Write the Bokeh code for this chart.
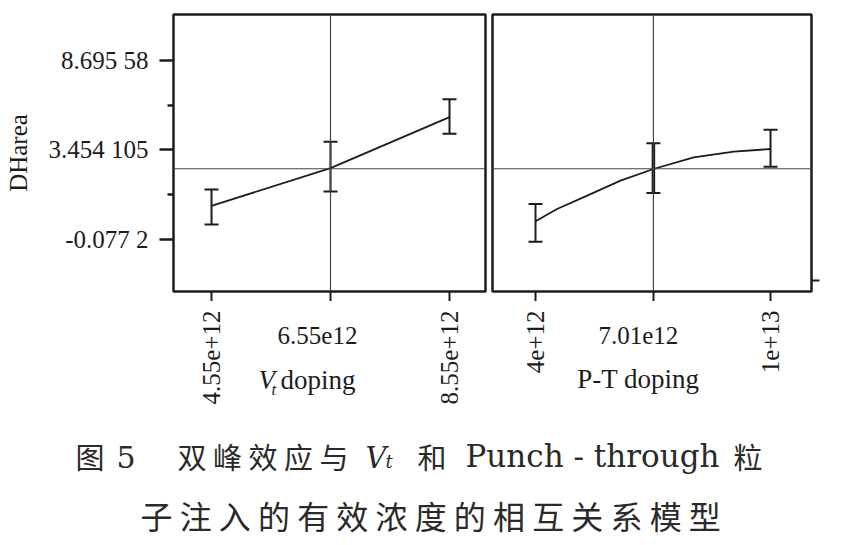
import math
from bokeh.plotting import figure
from bokeh.models import FixedTicker, LinearAxis, Span, Label, Range1d
from bokeh.layouts import row, column
from bokeh.embed import file_html
from bokeh.resources import INLINE

# ---------------- data ----------------
vt_x = [4.55e12, 6.55e12, 8.55e12]
vt_y = [1.575, 3.418, 5.917]
vt_lo = [0.658, 2.276, 5.103]
vt_hi = [2.373, 4.711, 6.799]

pt_x = [4.0e12, 7.01e12, 1.0e13]
pt_y = [0.815, 3.378, 4.358]
pt_lo = [-0.185, 2.202, 3.491]
pt_hi = [1.663, 4.638, 5.304]
pt_curve_x = [4.0e12, 4.55e12, 5.32e12, 6.17e12, 7.01e12, 8.04e12, 9.06e12, 1.0e13]
pt_curve_y = [0.815, 1.418, 2.070, 2.805, 3.378, 3.952, 4.226, 4.358]

mean_y = 3.39
y_ticks = [-0.0772, 4.30919, 8.69558]
y_tick_labels = ["-0.077 2", "3.454 105", "8.695 58"]
y_minor = [2.11600, 6.50239]
vt_tick_labels = ["4.55e+12", "6.55e12", "8.55e+12"]
pt_tick_labels = ["4e+12", "7.01e12", "1e+13"]
y_label = "DHarea"
vt_axis_label = ("V", "t", "doping")
pt_axis_label = "P-T doping"
caption1 = ["图", "5", "双 峰 效 应 与", "V", "t", "和", "Punch - through", "粒"]
caption2 = "子 注 入 的 有 效 浓 度 的 相 互 关 系 模 型"

Y0, Y1 = -2.626, 10.950
INK = "#1c1c1c"
SERIF = "Liberation Serif"
CJK = "Noto Sans CJK SC"
STRIP_H = 120
CAP_H = 124


def panel(xr, xs, lo, hi, cx, cy, left, bar_widths):
    p = figure(x_range=Range1d(*xr), y_range=Range1d(Y0, Y1), title=None,
               frame_width=312 if left else 319, frame_height=277,
               min_border_left=173 if left else 4, min_border_right=3 if left else 20,
               min_border_top=14, min_border_bottom=10,
               toolbar_location=None, output_backend="svg",
               y_axis_location="left" if left else None,
               background_fill_color="white", border_fill_color="white")
    p.grid.visible = False
    p.outline_line_color = INK
    p.outline_line_width = 2.5

    xa = p.xaxis[0]
    xa.ticker = FixedTicker(ticks=[], minor_ticks=xs)
    xa.axis_line_color = None
    xa.minor_tick_in = 0
    xa.minor_tick_out = 10
    xa.minor_tick_line_width = 2
    xa.minor_tick_line_color = INK
    xa.major_label_standoff = 0
    xa.axis_label_standoff = 0

    p.add_layout(Span(location=mean_y, dimension="width", line_color="#444", line_width=1.2))
    p.add_layout(Span(location=xs[1], dimension="height", line_color="#444", line_width=1.2))

    p.line(cx, cy, line_color=INK, line_width=1.8)
    p.segment(x0=xs, y0=lo, x1=xs, y1=hi, line_color=INK, line_width=bar_widths)
    p.scatter(xs, lo, marker="dash", size=14, line_color=INK, line_width=2)
    p.scatter(xs, hi, marker="dash", size=14, line_color=INK, line_width=2)
    return p


def strip(p, left, xs, tick_labels, mid_offset):
    # tick-label band under a panel, sharing the panel's x scale
    s = figure(x_range=p.x_range, y_range=Range1d(0, STRIP_H), title=None,
               frame_width=312 if left else 319, frame_height=STRIP_H,
               min_border_left=173 if left else 4, min_border_right=3 if left else 20,
               min_border_top=0, min_border_bottom=0,
               toolbar_location=None, output_backend="svg",
               x_axis_location=None, y_axis_location=None,
               background_fill_color="white", border_fill_color="white")
    s.grid.visible = False
    s.outline_line_color = None
    for xv, t in ((xs[0], tick_labels[0]), (xs[2], tick_labels[2])):
        s.add_layout(Label(x=xv, y=STRIP_H - 9, text=t, angle=math.pi / 2,
                           text_align="right", text_baseline="middle",
                           text_font=SERIF, text_font_size="25px", text_color=INK))
    s.add_layout(Label(x=xs[1], y=86, x_offset=mid_offset, text=tick_labels[1],
                       text_align="center", text_baseline="middle",
                       text_font=SERIF, text_font_size="25px", text_color=INK))
    return s


p1 = panel((3.911e12, 9.155e12), vt_x, vt_lo, vt_hi, vt_x, vt_y, True, [2, 2, 2])
ya = p1.yaxis[0]
ya.ticker = FixedTicker(ticks=y_ticks, minor_ticks=y_minor)
ya.major_label_overrides = dict(zip(y_ticks, y_tick_labels))
ya.axis_line_color = None
ya.major_tick_in = 0
ya.major_tick_out = 14
ya.minor_tick_in = 0
ya.minor_tick_out = 6
ya.major_tick_line_width = 2.5
ya.minor_tick_line_width = 2.5
ya.major_tick_line_color = INK
ya.minor_tick_line_color = INK
ya.major_label_standoff = 11
ya.major_label_text_font = SERIF
ya.major_label_text_font_size = "25px"
ya.major_label_text_color = INK
ya.axis_label = y_label
ya.axis_label_text_font = SERIF
ya.axis_label_text_font_size = "25px"
ya.axis_label_text_font_style = "normal"
ya.axis_label_text_color = INK
ya.axis_label_standoff = 14

p2 = panel((2.902e12, 1.1046e13), pt_x, pt_lo, pt_hi, pt_curve_x, pt_curve_y, False, [2, 3.5, 2])
ra = LinearAxis(ticker=FixedTicker(ticks=[], minor_ticks=[-2.087]),
                axis_line_color=None, minor_tick_in=0, minor_tick_out=8,
                minor_tick_line_width=2, minor_tick_line_color=INK,
                major_label_standoff=0, axis_label_standoff=0)
p2.add_layout(ra, "right")

s1 = strip(p1, True, vt_x, vt_tick_labels, -13)
s1.add_layout(Label(x=vt_x[1], y=27, x_offset=-72, text=vt_axis_label[0], text_font=SERIF,
                    text_font_style="italic", text_font_size="27px", text_color=INK))
s1.add_layout(Label(x=vt_x[1], y=23, x_offset=-59, text=vt_axis_label[1], text_font=SERIF,
                    text_font_style="italic", text_font_size="17px", text_color=INK))
s1.add_layout(Label(x=vt_x[1], y=27, x_offset=-50, text=vt_axis_label[2], text_font=SERIF,
                    text_font_size="27px", text_color=INK))

s2 = strip(p2, False, pt_x, pt_tick_labels, -15)
s2.add_layout(Label(x=pt_x[1], y=28, x_offset=-15, text=pt_axis_label, text_align="center",
                    text_font=SERIF, text_font_size="27px", text_color=INK))

# caption
cap = figure(width=831, height=CAP_H, x_range=Range1d(0, 831), y_range=Range1d(0, CAP_H),
             title=None, min_border=0, toolbar_location=None, output_backend="svg",
             x_axis_location=None, y_axis_location=None,
             background_fill_color="white", border_fill_color="white")
cap.grid.visible = False
cap.outline_line_color = None
CAP = "#2a2a2a"
cap_specs = [
    (caption1[0], 75, 89.5, CJK, "normal", "29px", "middle"),
    (caption1[1], 116, 89, "DejaVu Serif", "normal", "30px", "alphabetic"),
    (caption1[2], 177, 89.5, CJK, "normal", "29px", "middle"),
    (caption1[3], 365, 88, "DejaVu Serif", "italic", "29px", "alphabetic"),
    (caption1[4], 385, 84, "DejaVu Serif", "italic", "18px", "alphabetic"),
    (caption1[5], 417, 89.5, CJK, "normal", "29px", "middle"),
    (caption1[6], 465, 90, "DejaVu Serif", "normal", "31px", "alphabetic"),
    (caption1[7], 733, 89.5, CJK, "normal", "29px", "middle"),
    (caption2, 140, 31, CJK, "normal", "32px", "middle"),
]
for t, x, y, f, st, sz, bl in cap_specs:
    cap.add_layout(Label(x=x, y=y, text=t, text_align="left", text_baseline=bl,
                         text_font=f, text_font_style=st, text_font_size=sz,
                         text_color=CAP))

layout = column(row(p1, p2), row(s1, s2), cap)
open("out.html", "w").write(file_html(layout, INLINE))
